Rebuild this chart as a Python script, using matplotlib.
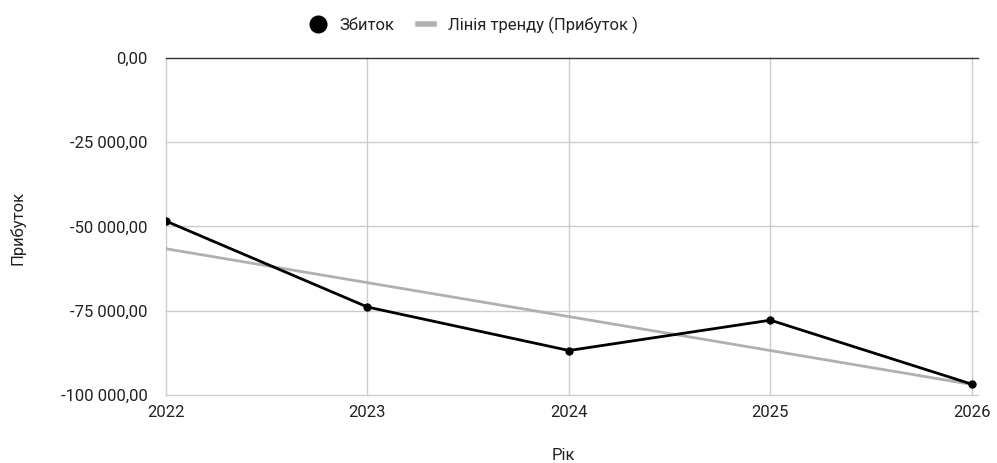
import numpy as np
import matplotlib.pyplot as plt
from matplotlib.lines import Line2D

# дані
years = [2022, 2023, 2024, 2025, 2026]
loss = [-48400, -73900, -86800, -77800, -96800]
y_ticks = [0, -25000, -50000, -75000, -100000]
y_tick_labels = ['0,00', '-25 000,00', '-50 000,00', '-75 000,00', '-100 000,00']

plt.rcParams['font.family'] = ['Roboto', 'DejaVu Sans']
fs = 12
txt_col = '#222222'

fig = plt.figure(figsize=(9.97, 4.63), dpi=100)
ax = fig.add_axes([0.1665, 0.1469, 0.8144, 0.7278])

# лінія тренду (лінійна регресія)
k, b = np.polyfit(years, loss, 1)
xt = np.array([years[0], years[-1]])
ax.plot(xt, k * xt + b, color='#b0b0b0', lw=2, zorder=3)

ax.plot(years, loss, color='black', lw=2, marker='o', ms=5, zorder=4)

ax.set_xlim(2022, 2026.03)
ax.set_ylim(-100000, 0)
ax.set_xticks(years)
ax.set_xticklabels([str(y) for y in years])
ax.set_yticks(y_ticks)
ax.set_yticklabels(y_tick_labels)
ax.grid(False)
for yv in y_ticks[1:]:
    ax.axhline(yv, color='#cccccc', lw=1, zorder=1, clip_on=False)
for xv in years:
    ax.axvline(xv, color='#cccccc', lw=1, zorder=1, clip_on=False)
ax.axhline(0, color='#333333', lw=1, zorder=2, clip_on=False)
for s in ax.spines.values():
    s.set_visible(False)
ax.tick_params(length=0, labelsize=fs, colors=txt_col)
ax.tick_params(axis='x', pad=7)
ax.tick_params(axis='y', pad=13)

fig.text(0.018, 0.508, 'Прибуток', rotation=90, ha='center', va='center', fontsize=fs, color=txt_col)
fig.text(0.565, 0.016, 'Рік', ha='center', va='center', fontsize=fs, color=txt_col)

handles = [
    Line2D([], [], color='black', marker='o', ls='none', ms=12),
    Line2D([], [], color='#b0b0b0', lw=4),
]
leg = fig.legend(handles, ['Збиток', 'Лінія тренду (Прибуток )'], loc='center', bbox_to_anchor=(0.475, 0.946),
                 ncol=2, frameon=False, fontsize=fs, handlelength=1.0, columnspacing=1.4, handletextpad=0.8)
for t in leg.get_texts():
    t.set_color(txt_col)

fig.savefig('out.png', dpi=100)
